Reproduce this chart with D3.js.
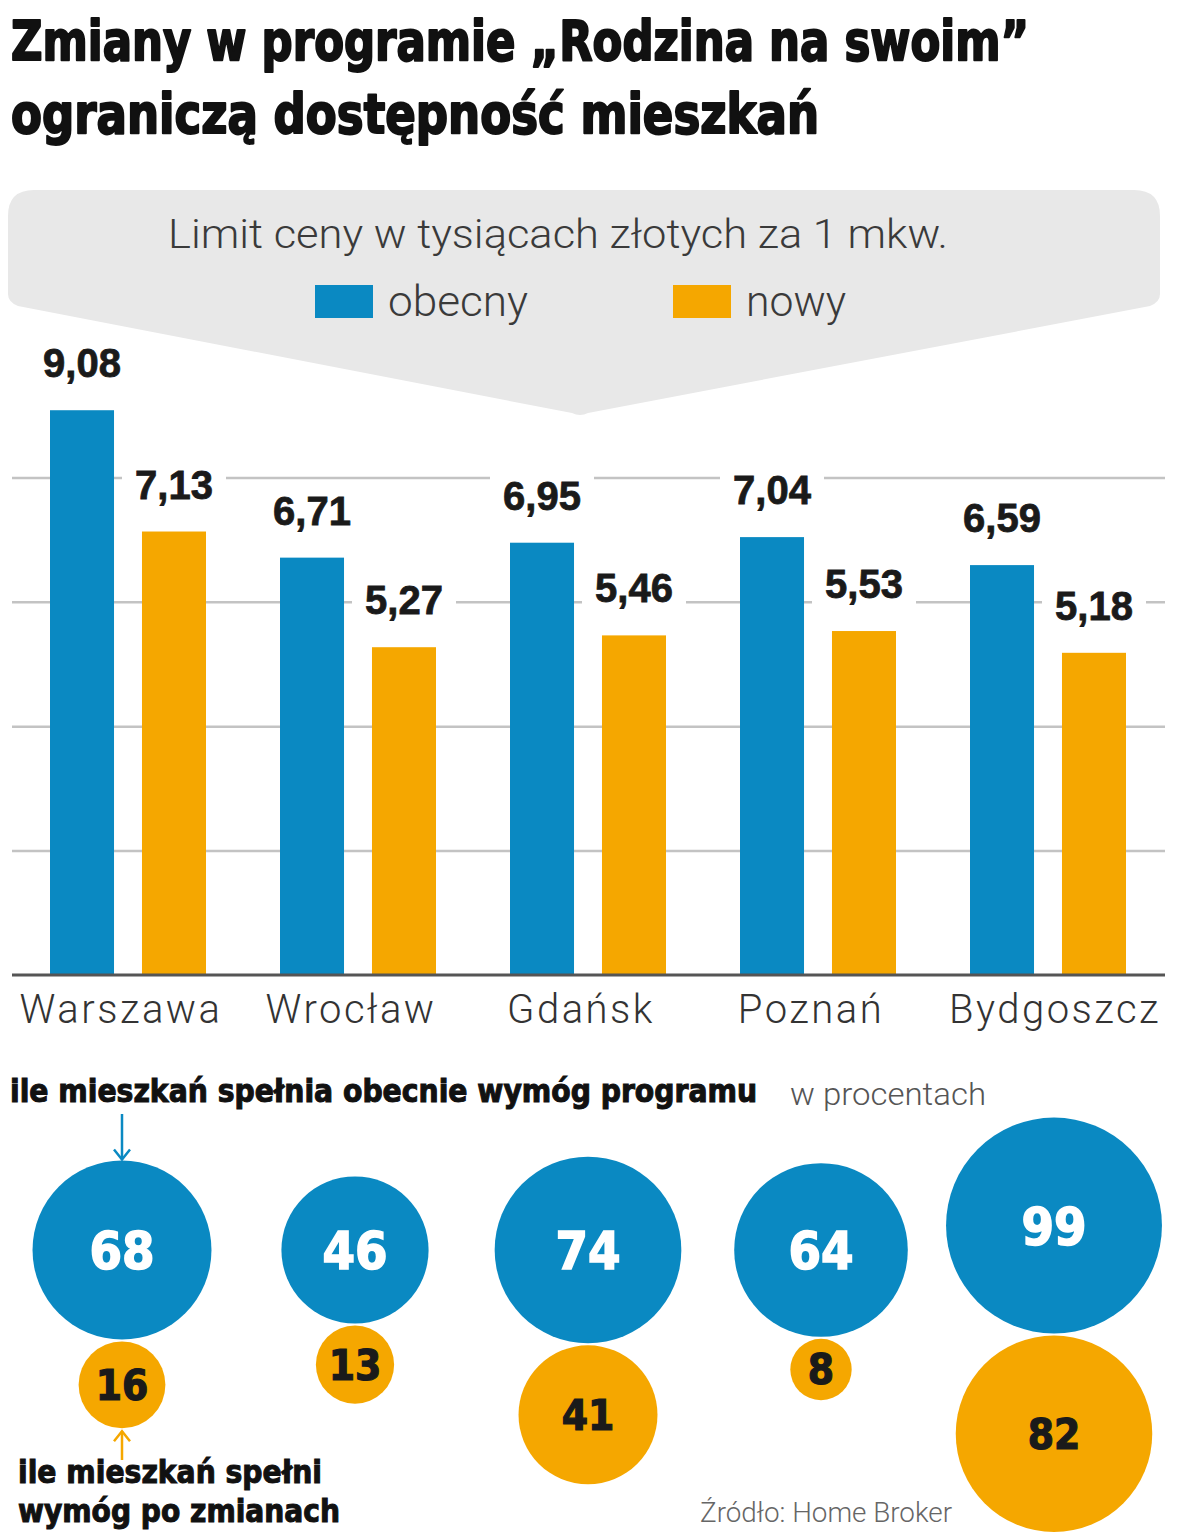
<!DOCTYPE html>
<html>
<head>
<meta charset="utf-8">
<script src="https://cdn.jsdelivr.net/npm/d3@7"></script>
<style>
  body { margin: 0; background: #fff; }
  svg { display: block; }
</style>
</head>
<body>
<div id="chart"></div>
<script>
// dane z grafiki
const cities = ["Warszawa", "Wrocław", "Gdańsk", "Poznań", "Bydgoszcz"];
const limitObecny = [9.08, 6.71, 6.95, 7.04, 6.59];
const limitNowy = [7.13, 5.27, 5.46, 5.53, 5.18];
const shareNow = [68, 46, 74, 64, 99];
const shareAfter = [16, 13, 41, 8, 82];
const gridTicks = [2, 4, 6, 8];
const seriesNames = ["obecny", "nowy"];

const BLUE = "#0a89c2";
const ORANGE = "#f5a700";
const CONDENSED = "'Liberation Sans Narrow', 'DejaVu Sans Condensed', 'Roboto', sans-serif";
const LIGHT = "'Roboto', 'Open Sans', sans-serif";

const W = 1200, H = 1540;
const svg = d3.select("#chart").append("svg")
    .attr("width", W)
    .attr("height", H);

// tytuł
const title = svg.append("g")
    .attr("font-family", CONDENSED)
    .attr("font-weight", "bold")
    .attr("font-size", 56)
    .attr("fill", "#111")
    .attr("stroke", "#111").attr("stroke-width", 2).attr("stroke-linejoin", "round");
title.append("text").attr("x", 11).attr("y", 60)
    .attr("textLength", 1018).attr("lengthAdjust", "spacingAndGlyphs")
    .text("Zmiany w programie „Rodzina na swoim”");
title.append("text").attr("x", 11).attr("y", 133)
    .attr("textLength", 808).attr("lengthAdjust", "spacingAndGlyphs")
    .text("ograniczą dostępność mieszkań");

// szary dymek z legendą
const bx0 = 8, bx1 = 1160, by0 = 190, by1 = 302, r = 26, apexX = 580, apexY = 415;
svg.append("path")
    .attr("d", `M${bx0 + r},${by0} L${bx1 - r},${by0} Q${bx1},${by0} ${bx1},${by0 + r}
      L${bx1},${by1 - 8} Q${bx1},${by1} ${bx1 - 10},${by1 + 4}
      L${apexX + 8},${apexY - 2} Q${apexX},${apexY + 2} ${apexX - 8},${apexY - 2}
      L${bx0 + 10},${by1 + 4} Q${bx0},${by1} ${bx0},${by1 - 8}
      L${bx0},${by0 + r} Q${bx0},${by0} ${bx0 + r},${by0} Z`)
    .attr("fill", "#e8e8e8");

svg.append("text")
    .attr("x", 168).attr("y", 248)
    .attr("font-family", LIGHT).attr("font-weight", 300)
    .attr("font-size", 40).attr("fill", "#3a3a3a")
    .attr("textLength", 780).attr("lengthAdjust", "spacingAndGlyphs")
    .text("Limit ceny w tysiącach złotych za 1 mkw.");

const color = d3.scaleOrdinal().domain(seriesNames).range([BLUE, ORANGE]);
const legendX = d3.scaleOrdinal().domain(seriesNames).range([315, 673]);
const legendWidths = { obecny: 140, nowy: 100 };
const leg = svg.append("g").selectAll("g").data(seriesNames).join("g")
    .attr("transform", d => `translate(${legendX(d)},285)`);
leg.append("rect").attr("width", 58).attr("height", 33).attr("fill", d => color(d));
leg.append("text")
    .attr("x", 73).attr("y", 31)
    .attr("font-family", LIGHT).attr("font-weight", 300)
    .attr("font-size", 42).attr("fill", "#3a3a3a")
    .attr("textLength", d => legendWidths[d]).attr("lengthAdjust", "spacingAndGlyphs")
    .text(d => d);

// wykres słupkowy
const x0 = d3.scaleBand().domain(cities).range([12, 1162]);
const x1 = d3.scaleBand().domain(seriesNames).range([38, 194]).paddingInner(0.304);
const y = d3.scaleLinear().domain([0, 10]).range([975, 353]);

const grid = svg.append("g")
    .attr("transform", "translate(1165,0)")
    .call(d3.axisLeft(y).tickValues(gridTicks).tickSize(1153).tickFormat(""));
grid.select(".domain").remove();
grid.selectAll(".tick line").attr("stroke", "#c3c3c3").attr("stroke-width", 2.5);

const barData = cities.map((c, i) => ({
  city: c,
  values: [{ key: "obecny", v: limitObecny[i] }, { key: "nowy", v: limitNowy[i] }]
}));

const groups = svg.append("g").selectAll("g").data(barData).join("g")
    .attr("transform", d => `translate(${x0(d.city)},0)`);

groups.selectAll("rect.bar").data(d => d.values).join("rect")
    .attr("class", "bar")
    .attr("x", d => x1(d.key))
    .attr("width", x1.bandwidth())
    .attr("y", d => y(d.v))
    .attr("height", d => y(0) - y(d.v))
    .attr("fill", d => color(d.key));

const fmt = v => d3.format(".2f")(v).replace(".", ",");
const lab = groups.selectAll("g.lab").data(d => d.values).join("g")
    .attr("class", "lab")
    .attr("transform", d => `translate(${x1(d.key) + x1.bandwidth() / 2},${y(d.v) - 33})`);
lab.append("rect")
    .attr("x", -52).attr("y", -34).attr("width", 104).attr("height", 42)
    .attr("fill", "#fff");
lab.append("text")
    .attr("text-anchor", "middle")
    .attr("font-family", "'Liberation Sans', Arial, sans-serif")
    .attr("font-weight", "bold").attr("font-size", 40).attr("fill", "#1a1a1a")
    .attr("stroke", "#1a1a1a").attr("stroke-width", 0.8)
    .text(d => fmt(d.v));

// oś kategorii
const axis = svg.append("g")
    .attr("transform", `translate(0,${y(0)})`)
    .call(d3.axisBottom(x0).tickSize(0).tickPadding(0));
axis.select(".domain").attr("d", "M12,0H1165").attr("stroke", "#555").attr("stroke-width", 3);
axis.selectAll(".tick text")
    .attr("y", 48)
    .attr("dy", 0)
    .attr("dx", -6)
    .attr("font-family", LIGHT).attr("font-weight", 300)
    .attr("font-size", 40).attr("fill", "#333")
    .attr("letter-spacing", 2.5);
axis.selectAll(".tick:last-of-type text").attr("dx", 8);

// bąbelki
const rScale = d3.scaleSqrt().domain([0, 100]).range([0, 108.5]);
const bx = d3.scalePoint().domain(cities).range([122, 1054]);
const bubbles = cities.map((c, i) => {
  const rb = rScale(shareNow[i]), ro = rScale(shareAfter[i]);
  const cyb = Math.min(1250, 1532 - rb - 2 - 2 * ro);
  return { city: c, now: shareNow[i], after: shareAfter[i], rb, ro, cyb, cyo: cyb + rb + ro + 2 };
});

const bg = svg.append("g").selectAll("g").data(bubbles).join("g")
    .attr("transform", d => `translate(${bx(d.city)},0)`);
bg.append("circle").attr("cy", d => d.cyb).attr("r", d => d.rb).attr("fill", BLUE);
bg.append("circle").attr("cy", d => d.cyo).attr("r", d => d.ro).attr("fill", ORANGE);
bg.append("text")
    .attr("y", d => d.cyb + 19).attr("text-anchor", "middle")
    .attr("font-family", CONDENSED).attr("font-weight", "bold")
    .attr("font-size", 52).attr("fill", "#fff")
    .attr("stroke", "#fff").attr("stroke-width", 1.5)
    .text(d => d.now);
bg.append("text")
    .attr("y", d => d.cyo + 15).attr("text-anchor", "middle")
    .attr("font-family", CONDENSED).attr("font-weight", "bold")
    .attr("font-size", 42).attr("fill", "#1a1a1a")
    .attr("stroke", "#1a1a1a").attr("stroke-width", 1.2)
    .text(d => d.after);

// opisy bąbelków
const notes = svg.append("g").attr("font-family", CONDENSED).attr("font-weight", "bold")
    .attr("font-size", 32).attr("fill", "#111")
    .attr("stroke", "#111").attr("stroke-width", 1);
notes.append("text").attr("x", 10).attr("y", 1102)
    .attr("textLength", 747).attr("lengthAdjust", "spacingAndGlyphs")
    .text("ile mieszkań spełnia obecnie wymóg programu");
notes.append("text").attr("x", 18).attr("y", 1483)
    .attr("textLength", 304).attr("lengthAdjust", "spacingAndGlyphs")
    .text("ile mieszkań spełni");
notes.append("text").attr("x", 18).attr("y", 1522)
    .attr("textLength", 322).attr("lengthAdjust", "spacingAndGlyphs")
    .text("wymóg po zmianach");

svg.append("text").attr("x", 790).attr("y", 1105)
    .attr("font-family", LIGHT).attr("font-weight", 300)
    .attr("font-size", 31).attr("fill", "#555")
    .attr("textLength", 196).attr("lengthAdjust", "spacingAndGlyphs")
    .text("w procentach");
svg.append("text").attr("x", 700).attr("y", 1522)
    .attr("font-family", LIGHT).attr("font-weight", 300)
    .attr("font-size", 27).attr("fill", "#666")
    .attr("textLength", 252).attr("lengthAdjust", "spacingAndGlyphs")
    .text("Źródło: Home Broker");

// strzałki
const first = bubbles[0];
const ax = bx(first.city);
function arrow(xp, yFrom, yTo, col) {
  const dir = yTo > yFrom ? 1 : -1;
  const g = svg.append("g").attr("stroke", col).attr("stroke-width", 2.5).attr("fill", "none");
  g.append("line").attr("x1", xp).attr("x2", xp).attr("y1", yFrom).attr("y2", yTo);
  g.append("path").attr("d", `M${xp - 8},${yTo - dir * 10} L${xp},${yTo} L${xp + 8},${yTo - dir * 10}`);
}
arrow(ax, 1114, first.cyb - first.rb - 1, BLUE);
arrow(ax, 1460, first.cyo + first.ro + 3, ORANGE);
</script>
</body>
</html>
